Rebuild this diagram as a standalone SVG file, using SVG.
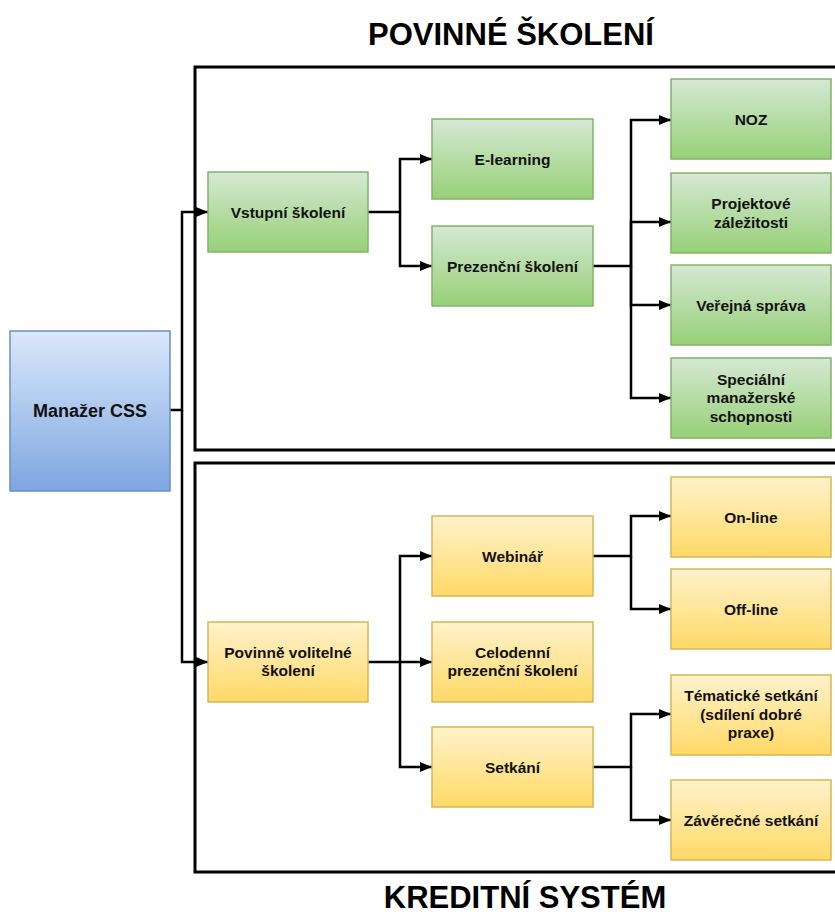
<svg xmlns="http://www.w3.org/2000/svg" width="835" height="917" viewBox="0 0 835 917">
<style>
.t{font-family:"Liberation Sans",Arial,sans-serif;font-weight:bold;font-size:15.5px;fill:#111;text-anchor:middle}
.title{font-family:"Liberation Sans",Arial,sans-serif;font-weight:bold;font-size:31px;fill:#000;text-anchor:middle}
.g{fill:url(#gg);stroke:#82b366;stroke-width:1.5}
.y{fill:url(#gy);stroke:#d6b656;stroke-width:1.5}
.b{fill:url(#gb);stroke:#6c8ebf;stroke-width:1.5}
.c{fill:none;stroke:#000;stroke-width:2.5;marker-end:url(#arr)}
.cn{fill:none;stroke:#000;stroke-width:2.5}
.box{fill:none;stroke:#000;stroke-width:3}
</style>
<defs>
<linearGradient id="gg" x1="0" y1="0" x2="0" y2="1"><stop offset="0" stop-color="#d5e8d4"/><stop offset="1" stop-color="#97d077"/></linearGradient>
<linearGradient id="gy" x1="0" y1="0" x2="0" y2="1"><stop offset="0" stop-color="#fff2cc"/><stop offset="1" stop-color="#ffd966"/></linearGradient>
<linearGradient id="gb" x1="0" y1="0" x2="0" y2="1"><stop offset="0" stop-color="#dae8fc"/><stop offset="1" stop-color="#7ea6e0"/></linearGradient>
<marker id="arr" viewBox="0 0 12 10" refX="12" refY="5" markerWidth="12" markerHeight="10" markerUnits="userSpaceOnUse" orient="auto"><path d="M0,0 L12,5 L0,10 z" fill="#000"/></marker>
</defs>
<rect width="835" height="917" fill="#fff"/>
<g id="titles">
<text class="title" x="511" y="45">POVINNÉ ŠKOLENÍ</text>
<text class="title" x="525" y="908">KREDITNÍ SYSTÉM</text>
</g>
<g id="containers">
<rect class="box" x="195" y="67" width="650" height="383"/>
<rect class="box" x="195" y="463" width="650" height="409"/>
</g>
<g id="connectors">
<path class="c" d="M170,410 H182 V212 H208"/>
<path class="c" d="M182,410 V662 H208"/>
<path class="c" d="M368,212 H400 V159 H432"/>
<path class="c" d="M400,212 V266 H432"/>
<path class="c" d="M593,266 H631 V120 H671"/>
<path class="c" d="M631,266 V222 H671"/>
<path class="c" d="M631,266 V305 H671"/>
<path class="c" d="M631,266 V398 H671"/>
<path class="c" d="M368,662 H400 V556 H432"/>
<path class="c" d="M400,662 H432"/>
<path class="c" d="M400,662 V767 H432"/>
<path class="c" d="M593,556 H631 V516 H671"/>
<path class="c" d="M631,556 V609 H671"/>
<path class="c" d="M593,767 H631 V714 H671"/>
<path class="c" d="M631,767 V820 H671"/>
</g>
<g id="manazer"><rect class="b" x="10" y="331" width="160" height="160"/><text class="t" x="90" y="416.5" style="font-size:18px">Manažer CSS</text></g>
<g id="vstupni"><rect class="g" x="208" y="172" width="160" height="80"/><text class="t" x="288" y="217.5">Vstupní školení</text></g>
<g id="elearning"><rect class="g" x="432" y="119" width="161" height="80"/><text class="t" x="512.5" y="164.5">E-learning</text></g>
<g id="prezencni"><rect class="g" x="432" y="226" width="161" height="80"/><text class="t" x="512.5" y="271.5">Prezenční školení</text></g>
<g id="noz"><rect class="g" x="671" y="79" width="160" height="80"/><text class="t" x="751" y="124.5">NOZ</text></g>
<g id="projektove"><rect class="g" x="671" y="173" width="160" height="80"/><text class="t" x="751" y="209"><tspan x="751">Projektové</tspan><tspan x="751" dy="18.5">záležitosti</tspan></text></g>
<g id="verejna"><rect class="g" x="671" y="265" width="160" height="80"/><text class="t" x="751" y="310.5">Veřejná správa</text></g>
<g id="specialni"><rect class="g" x="671" y="358" width="160" height="80"/><text class="t" x="751" y="384.5"><tspan x="751">Speciální</tspan><tspan x="751" dy="18.5">manažerské</tspan><tspan x="751" dy="18.5">schopnosti</tspan></text></g>
<g id="povinne"><rect class="y" x="208" y="622" width="160" height="80"/><text class="t" x="288" y="657.5"><tspan x="288">Povinně volitelné</tspan><tspan x="288" dy="18.5">školení</tspan></text></g>
<g id="webinar"><rect class="y" x="432" y="516" width="161" height="80"/><text class="t" x="512.5" y="561.5">Webinář</text></g>
<g id="celodenni"><rect class="y" x="432" y="622" width="161" height="80"/><text class="t" x="512.5" y="657.5"><tspan x="512.5">Celodenní</tspan><tspan x="512.5" dy="18.5">prezenční školení</tspan></text></g>
<g id="setkani"><rect class="y" x="432" y="727" width="161" height="80"/><text class="t" x="512.5" y="772.5">Setkání</text></g>
<g id="online"><rect class="y" x="671" y="477" width="160" height="80"/><text class="t" x="751" y="522.5">On-line</text></g>
<g id="offline"><rect class="y" x="671" y="569" width="160" height="80"/><text class="t" x="751" y="614.5">Off-line</text></g>
<g id="tematicke"><rect class="y" x="671" y="675" width="160" height="80"/><text class="t" x="751" y="701"><tspan x="751">Tématické setkání</tspan><tspan x="751" dy="18.5">(sdílení dobré</tspan><tspan x="751" dy="18.5">praxe)</tspan></text></g>
<g id="zaverecne"><rect class="y" x="671" y="780" width="160" height="80"/><text class="t" x="751" y="825.5">Závěrečné setkání</text></g>
</svg>
